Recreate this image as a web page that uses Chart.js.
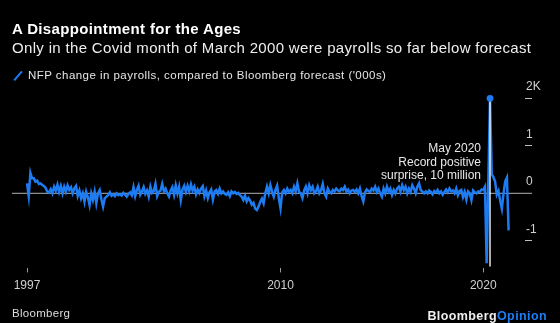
<!DOCTYPE html>
<html>
<head>
<meta charset="utf-8">
<script src="https://cdn.jsdelivr.net/npm/chart.js@4.4.1/dist/chart.umd.min.js"></script>
<style>
  html, body { margin: 0; padding: 0; background: #000; }
  #wrap {
    position: relative; width: 560px; height: 323px; overflow: hidden;
    font-family: "Liberation Sans", Arial, sans-serif; color: #fff;
  }
  #chartBox { position: absolute; left: 0; top: 0; width: 560px; height: 323px; }
  .title { position: absolute; left: 12px; top: 20px; font-size: 15px; line-height: 18px; font-weight: bold; letter-spacing: 0.35px; }
  .subtitle { position: absolute; left: 12px; top: 39px; font-size: 15px; line-height: 18px; color: #eee; white-space: nowrap; letter-spacing: 0.33px; }
  .legend { position: absolute; left: 28px; top: 68px; font-size: 11.5px; line-height: 14px; color: #e6e6e6; white-space: nowrap; letter-spacing: 0.46px; }
  .legend-mark {
    position: absolute; left: 17px; top: 70px; width: 2.4px; height: 12px;
    background: #1e7cf2; transform: rotate(40deg);
  }
  .source { position: absolute; left: 12px; top: 306px; font-size: 11.5px; line-height: 14px; color: #ddd; letter-spacing: 0.3px; }
  .logo { position: absolute; right: 13px; top: 309px; font-size: 12.5px; line-height: 15px; font-weight: bold; color: #eee; letter-spacing: 0.4px; }
  .logo span { color: #1e7cf2; }
</style>
</head>
<body>
<div id="wrap">
  <div id="chartBox"><canvas id="nfpChart"></canvas></div>
  <div class="title">A Disappointment for the Ages</div>
  <div class="subtitle">Only in the Covid month of March 2000 were payrolls so far below forecast</div>
  <span class="legend-mark"></span>
  <div class="legend">NFP change in payrolls, compared to Bloomberg forecast ('000s)</div>
  <div class="source">Bloomberg</div>
  <div class="logo">Bloomberg<span>Opinion</span></div>
</div>
<script>
// monthly surprise (actual minus forecast), thousands, starting July 1997
const startYear = 1997;
const startMonth = 7;

const surprise1997_2001 = [
  210, -56, 430, 315, 315, 245, 266, 196, 210, 175,
  154, 112, 35, 14, 84, 0, 140, 56, 182, 28,
  154, 0, 140, 35, 168, 70, 126, 0, 105, 154,
  -56, 56, -105, 0, -175, 35, -84, -245, 0, -140,
  35, -210, 0, 70, -126, -280, -105
];
const surprise2001_2005 = [
  -70, -40, 20, -50, -20, -60, 0, -40, -20, -50,
  10, -30, -70, -10, 20, -40, 130, -60, 70, 160,
  -30, 40, 130, -10, 60, -70, 140, 10, 50, 200,
  -60, 30, 60, 200, 40, 100, 0, -70, 60, 130,
  -30, 170, 0, 140, -140, 80, 160
];
const surprise2005_2009 = [
  30, 160, 40, 190, 60, 140, -20, 80, 10, 100,
  150, -60, 60, -100, 20, 80, -130, 40, 70, -10,
  100, 0, 40, -10, -30, 20, -60, 40, 0, 30,
  -10, 10, -40, -70, -140, -50, -170, -100, -150, -240,
  -200, -320, -350, -280, -180, -110, -210, 0
];
const surprise2009_2013 = [
  140, 0, 175, 35, -70, 70, 160, -100, -310, 20,
  70, 0, 100, 30, 70, 0, 140, 40, 210, 30,
  0, -100, 60, 140, 0, 170, 70, 140, 0, 40,
  140, 0, 70, 200, 0, -70, 100, 30, 0, 70,
  40, 100, 60, 40, 100, 70, 140
];
const surprise2013_2017 = [
  35, 80, 0, 60, 70, 30, 80, 0, 100, -60,
  -170, 20, 80, 50, 30, 100, 60, 140, 30, 100,
  0, -70, 100, 0, 140, 35, 100, -35, 70, 0,
  100, 140, 35, 170, 70, 140, 0, 100, 30, 170,
  100, 0, 140, 210, 70, 35, 0
];
const surprise2017_2020 = [
  40, 0, 60, 30, -20, 50, 20, 70, 0, 40,
  -30, 30, 80, 20, 100, 40, 60, 0, 100, -40,
  50, 70, -80, 30, -130, 40, 0, -140, 60, 20,
  0, 40, 30, 80, 70, 140
];
const surprise2020_2021 = [
  -1470, 250, 2000, 400, 340, 250, -30, 50, -150, -320, 0, 250, 330, -780
];

const xTickYears = [1997, 2010, 2020];
const yTickValues = [2000, 1000, 0, -1000];
const yTickLabels = ['2K', '1', '0', '-1'];
const noteLines = ['May 2020', 'Record positive', 'surprise, 10 million'];

const blue = '#1e7cf2';

const surprise = [].concat(
  surprise1997_2001, surprise2001_2005, surprise2005_2009,
  surprise2009_2013, surprise2013_2017, surprise2017_2020, surprise2020_2021
);
const points = surprise.map((v, i) => ({ x: i, y: v }));

// first year label sits on the first month of data
const xTickIndex = xTickYears.map(y => Math.max(0, (y - startYear) * 12 + 1 - startMonth));

const peakValue = Math.max(...surprise);
const peakIndex = surprise.indexOf(peakValue);

// zero line, and the marker + note on the record month
const notePlugin = {
  id: 'note',
  beforeDatasetsDraw(chart) {
    const { ctx, scales: { y } } = chart;
    const y0 = y.getPixelForValue(0);
    ctx.save();
    ctx.strokeStyle = '#8e8e8e';
    ctx.lineWidth = 1.2;
    ctx.beginPath();
    ctx.moveTo(12, y0);
    ctx.lineTo(532, y0);
    ctx.stroke();
    ctx.restore();
  },
  afterDatasetsDraw(chart) {
    const { ctx, chartArea, scales: { x, y } } = chart;
    const px = x.getPixelForValue(peakIndex);
    const py = y.getPixelForValue(peakValue);
    const y0 = y.getPixelForValue(0);
    ctx.save();
    ctx.strokeStyle = '#f2f2f2';
    ctx.lineWidth = 1.4;
    ctx.beginPath();
    ctx.moveTo(px, py);
    ctx.lineTo(px, chartArea.bottom - 2);
    ctx.stroke();

    ctx.fillStyle = blue;
    ctx.beginPath();
    ctx.arc(px, py, 3.4, 0, Math.PI * 2);
    ctx.fill();

    ctx.fillStyle = '#e8e8e8';
    ctx.font = '12px "Liberation Sans", Arial, sans-serif';
    ctx.textAlign = 'right';
    ctx.textBaseline = 'alphabetic';
    noteLines.forEach((line, k) => {
      ctx.fillText(line, px - 9, y0 - 41.6 + k * 13.8);
    });
    ctx.restore();
  }
};

const ctx = document.getElementById('nfpChart').getContext('2d');
new Chart(ctx, {
  type: 'line',
  data: {
    datasets: [{
      data: points,
      borderColor: blue,
      borderWidth: 2.5,
      pointRadius: 0,
      tension: 0,
      clip: false
    }]
  },
  options: {
    animation: false,
    responsive: true,
    maintainAspectRatio: false,
    layout: { padding: { top: 98.3, left: 12, right: 0, bottom: 0 } },
    plugins: { legend: { display: false }, tooltip: { enabled: false } },
    scales: {
      x: {
        type: 'linear',
        min: -8.9,
        max: 294.7,
        afterBuildTicks: s => { s.ticks = xTickIndex.map(v => ({ value: v })); },
        afterFit: s => { s.height = 54.6; },
        ticks: {
          callback: (v, i) => xTickYears[i],
          color: '#d0d0d0',
          font: { size: 12, family: '"Liberation Sans", Arial, sans-serif' },
          padding: 6,
          maxRotation: 0,
          autoSkip: false
        },
        grid: { drawOnChartArea: false, drawTicks: true, tickLength: 4, color: '#9a9a9a' },
        border: { display: false }
      },
      y: {
        position: 'right',
        min: -1580,
        max: 2000,
        afterBuildTicks: s => { s.ticks = yTickValues.map(v => ({ value: v })); },
        afterFit: s => { s.width = 35; },
        ticks: {
          callback: (v, i) => yTickLabels[i],
          color: '#d0d0d0',
          font: { size: 12, family: '"Liberation Sans", Arial, sans-serif' },
          labelOffset: -11.5,
          padding: -6
        },
        grid: { drawOnChartArea: false, drawTicks: true, tickLength: 7, color: '#bdbdbd' },
        border: { display: false }
      }
    }
  },
  plugins: [notePlugin]
});
</script>
</body>
</html>
